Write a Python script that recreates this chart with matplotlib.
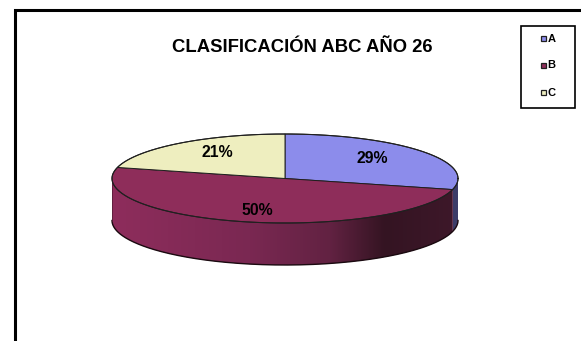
import numpy as np
import matplotlib
matplotlib.use("Agg")
import matplotlib.pyplot as plt
from matplotlib.patches import Polygon, Rectangle
from matplotlib.lines import Line2D

# Data
categories = ["A", "B", "C"]
values = [29, 50, 21]
top_colors = ["#8c8ceb", "#8e2d5a", "#eeeebf"]
side_colors = ["#3c3c68", "#8e2d5a", "#9a9a70"]
title = "CLASIFICACIÓN ABC AÑO 26"

plt.rcParams["font.family"] = ["Liberation Sans", "DejaVu Sans"]

W, H = 581, 341
fig = plt.figure(figsize=(W / 100, H / 100), dpi=100)
fig.patch.set_facecolor("white")
ax = fig.add_axes([0, 0, 1, 1])
ax.set_xlim(0, W)
ax.set_ylim(H, 0)
ax.axis("off")

# Chart area frame (open to the right and bottom)
ax.add_line(Line2D([15, 15, W + 5], [H + 5, 9.5, 9.5], color="black", lw=2.2,
                   solid_joinstyle="miter"))

ax.text(302, 48, title, ha="center", va="center", fontsize=13.3,
        fontweight="bold", color="black")

# Pie geometry (tilted disc)
cx, cy, a, b, depth = 285.0, 178.5, 173.0, 44.5, 42.0


def ell(t):
    t = np.asarray(t)
    return cx + a * np.cos(t), cy - b * np.sin(t)


total = float(sum(values))
fracs = [v / total for v in values]
start = np.pi / 2
bounds = []
for f in fracs:
    end = start - 2 * np.pi * f
    bounds.append((start, end))
    start = end

# Side walls: visible part of each slice between 180 and 360 degrees
stops_x = [112, 250, 330, 385, 458]
stops_c = np.array([(142, 45, 92), (122, 40, 82), (98, 34, 66),
                    (52, 20, 34), (62, 24, 42)]) / 255.0
gx = np.linspace(cx - a, cx + a, 400)
grad = np.stack([np.interp(gx, stops_x, stops_c[:, k]) for k in range(3)], axis=-1)[None, :, :]

for i, (t0, t1) in enumerate(bounds):
    lo, hi = min(t0, t1), max(t0, t1)
    # map angles into the front range [pi, 2pi]
    for shift in (-2 * np.pi, 0, 2 * np.pi):
        s0, s1 = max(lo + shift, np.pi), min(hi + shift, 2 * np.pi)
        if s1 <= s0:
            continue
        tt = np.linspace(s0, s1, 200)
        xs, ys = ell(tt)
        px = np.concatenate([xs, xs[::-1]])
        py = np.concatenate([ys, ys[::-1] + depth])
        poly = Polygon(np.column_stack([px, py]), closed=True,
                       facecolor=side_colors[i], edgecolor="none", zorder=2)
        ax.add_patch(poly)
        if categories[i] == "B":
            im = ax.imshow(grad, extent=(cx - a, cx + a, cy + b + depth, cy - b),
                           aspect="auto", interpolation="bilinear", zorder=2.1)
            im.set_clip_path(poly)

# Bottom rim of the side wall
tt = np.linspace(np.pi, 2 * np.pi, 300)
xs, ys = ell(tt)
ax.plot(xs, ys + depth, color="#1a0a10", lw=1.0, zorder=3)
ax.plot([cx - a, cx - a], [cy, cy + depth], color="#5a1d3a", lw=0.6, zorder=3)

# Top face slices
for i, (t0, t1) in enumerate(bounds):
    tt = np.linspace(t0, t1, 200)
    xs, ys = ell(tt)
    px = np.concatenate([[cx], xs])
    py = np.concatenate([[cy], ys])
    ax.add_patch(Polygon(np.column_stack([px, py]), closed=True,
                         facecolor=top_colors[i], edgecolor="#1e1e1e",
                         lw=0.7, zorder=4))

# Outline of the top face
tt = np.linspace(0, 2 * np.pi, 400)
xs, ys = ell(tt)
ax.plot(xs, ys, color="#202020", lw=0.8, zorder=5)

# Percentage labels
for i, (t0, t1) in enumerate(bounds):
    tm = (t0 + t1) / 2
    lx = cx + 0.64 * a * np.cos(tm)
    ly = cy - 0.74 * b * np.sin(tm)
    ax.text(lx, ly, f"{values[i]}%", ha="center", va="center",
            fontsize=11.4, fontweight="bold", color="black", zorder=6)

# Legend
ax.add_patch(Rectangle((520.5, 25.5), 54.5, 82.5, facecolor="white",
                       edgecolor="black", lw=1.2, zorder=6))
for i, name in enumerate(categories):
    y = 38.5 + 27 * i
    ax.add_patch(Rectangle((540.5, y - 2.8), 5.5, 5.5, facecolor=top_colors[i],
                           edgecolor="#202020", lw=0.9, zorder=7))
    ax.text(547.5, y, name, ha="left", va="center", fontsize=8,
            fontweight="bold", color="black", zorder=7)

fig.savefig("out.png", dpi=100, facecolor="white")
